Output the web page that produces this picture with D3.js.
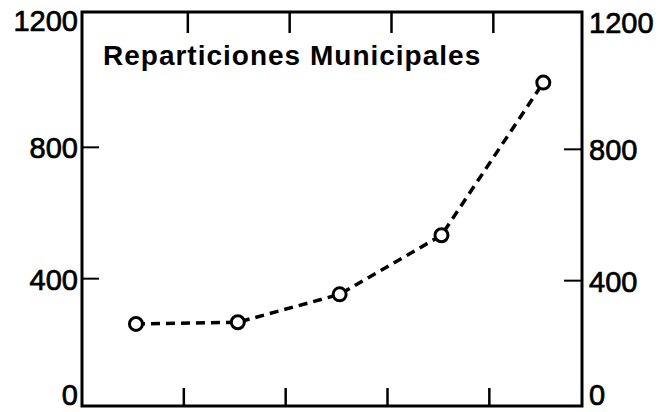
<!DOCTYPE html>
<html>
<head>
<meta charset="utf-8">
<script src="https://cdn.jsdelivr.net/npm/d3@7"></script>
<style>
  body { margin: 0; background: #fff; }
  svg { display: block; }
  text { font-family: 'Liberation Sans', Arial, sans-serif; fill: #000; }
</style>
</head>
<body>
<svg width="663" height="412"></svg>
<script>
// data
let title = 'Reparticiones Municipales';
let periods = ['1', '2', '3', '4', '5'];
let values = [250, 255, 340, 520, 985];
let yTicks = [0, 400, 800, 1200];

let svg = d3.select('svg');
let frame = { left: 82, right: 582, top: 12, bottom: 406 };

// x in period units: points sit at integers, ticks fall between them
let x = d3.scaleLinear()
  .domain([-0.53, periods.length - 0.62])
  .range([frame.left, frame.right]);
let y = d3.scaleLinear()
  .domain([0, 1200])
  .range([frame.bottom, frame.top]);

let g = svg.append('g');

// frame
g.append('rect')
  .attr('x', frame.left)
  .attr('y', frame.top)
  .attr('width', frame.right - frame.left)
  .attr('height', frame.bottom - frame.top)
  .attr('fill', 'none')
  .attr('stroke', '#000')
  .attr('stroke-width', 3);

// vertical ticks top and bottom, between the periods
let xTickPos = d3.range(periods.length - 1).map(function(i) { return i + 0.47; });
g.append('g')
  .selectAll('line')
  .data(xTickPos)
  .enter()
  .append('line')
  .attr('x1', function(d) { return x(d); })
  .attr('x2', function(d) { return x(d); })
  .attr('y1', frame.bottom)
  .attr('y2', frame.bottom - 18)
  .attr('stroke', '#000')
  .attr('stroke-width', 2.5);
g.append('g')
  .selectAll('line')
  .data(xTickPos)
  .enter()
  .append('line')
  .attr('x1', function(d) { return x(d) + 4; })
  .attr('x2', function(d) { return x(d) + 4; })
  .attr('y1', frame.top)
  .attr('y2', frame.top + 21)
  .attr('stroke', '#000')
  .attr('stroke-width', 2.5);

// inner y ticks on both sides
let innerTicks = yTicks.filter(function(d) { return d > 0 && d < 1200; });
g.append('g')
  .selectAll('line')
  .data(innerTicks)
  .enter()
  .append('line')
  .attr('x1', frame.left)
  .attr('x2', frame.left + 17)
  .attr('y1', function(d) { return y(d) + 4; })
  .attr('y2', function(d) { return y(d) + 4; })
  .attr('stroke', '#000')
  .attr('stroke-width', 2);
g.append('g')
  .selectAll('line')
  .data(innerTicks)
  .enter()
  .append('line')
  .attr('x1', frame.right)
  .attr('x2', frame.right - 18)
  .attr('y1', function(d) { return y(d) + 6; })
  .attr('y2', function(d) { return y(d) + 6; })
  .attr('stroke', '#000')
  .attr('stroke-width', 2);

// tick labels, end ones pulled inside the frame
function labelY(d) {
  if (d === 0) return y(d) - 11;
  if (d === 1200) return y(d) + 9;
  return y(d) + 5;
}
function addLabels(side) {
  g.append('g')
    .selectAll('text')
    .data(yTicks)
    .enter()
    .append('text')
    .attr('x', side === 'left' ? frame.left - 4 : frame.right + 7)
    .attr('y', function(d) {
      return labelY(d) + (side === 'right' && d > 0 ? 2 : 0);
    })
    .attr('dy', '0.35em')
    .attr('text-anchor', side === 'left' ? 'end' : 'start')
    .attr('font-size', 29)
    .attr('stroke', '#000')
    .attr('stroke-width', 0.7)
    .text(function(d) { return d; });
}
addLabels('left');
addLabels('right');

// title
g.append('text')
  .attr('x', 103)
  .attr('y', 65)
  .attr('font-size', 28)
  .attr('font-weight', 'bold')
  .attr('letter-spacing', 1)
  .text(title);

// dashed series line
let line = d3.line()
  .x(function(d, i) { return x(i); })
  .y(function(d) { return y(d); });
g.append('path')
  .datum(values)
  .attr('d', line)
  .attr('fill', 'none')
  .attr('stroke', '#000')
  .attr('stroke-width', 3.5)
  .attr('stroke-dasharray', '9,6');

g.append('g')
  .selectAll('circle')
  .data(values)
  .enter()
  .append('circle')
  .attr('cx', function(d, i) { return x(i); })
  .attr('cy', function(d) { return y(d); })
  .attr('r', 6.5)
  .attr('fill', '#fff')
  .attr('stroke', '#000')
  .attr('stroke-width', 3);
</script>
</body>
</html>
